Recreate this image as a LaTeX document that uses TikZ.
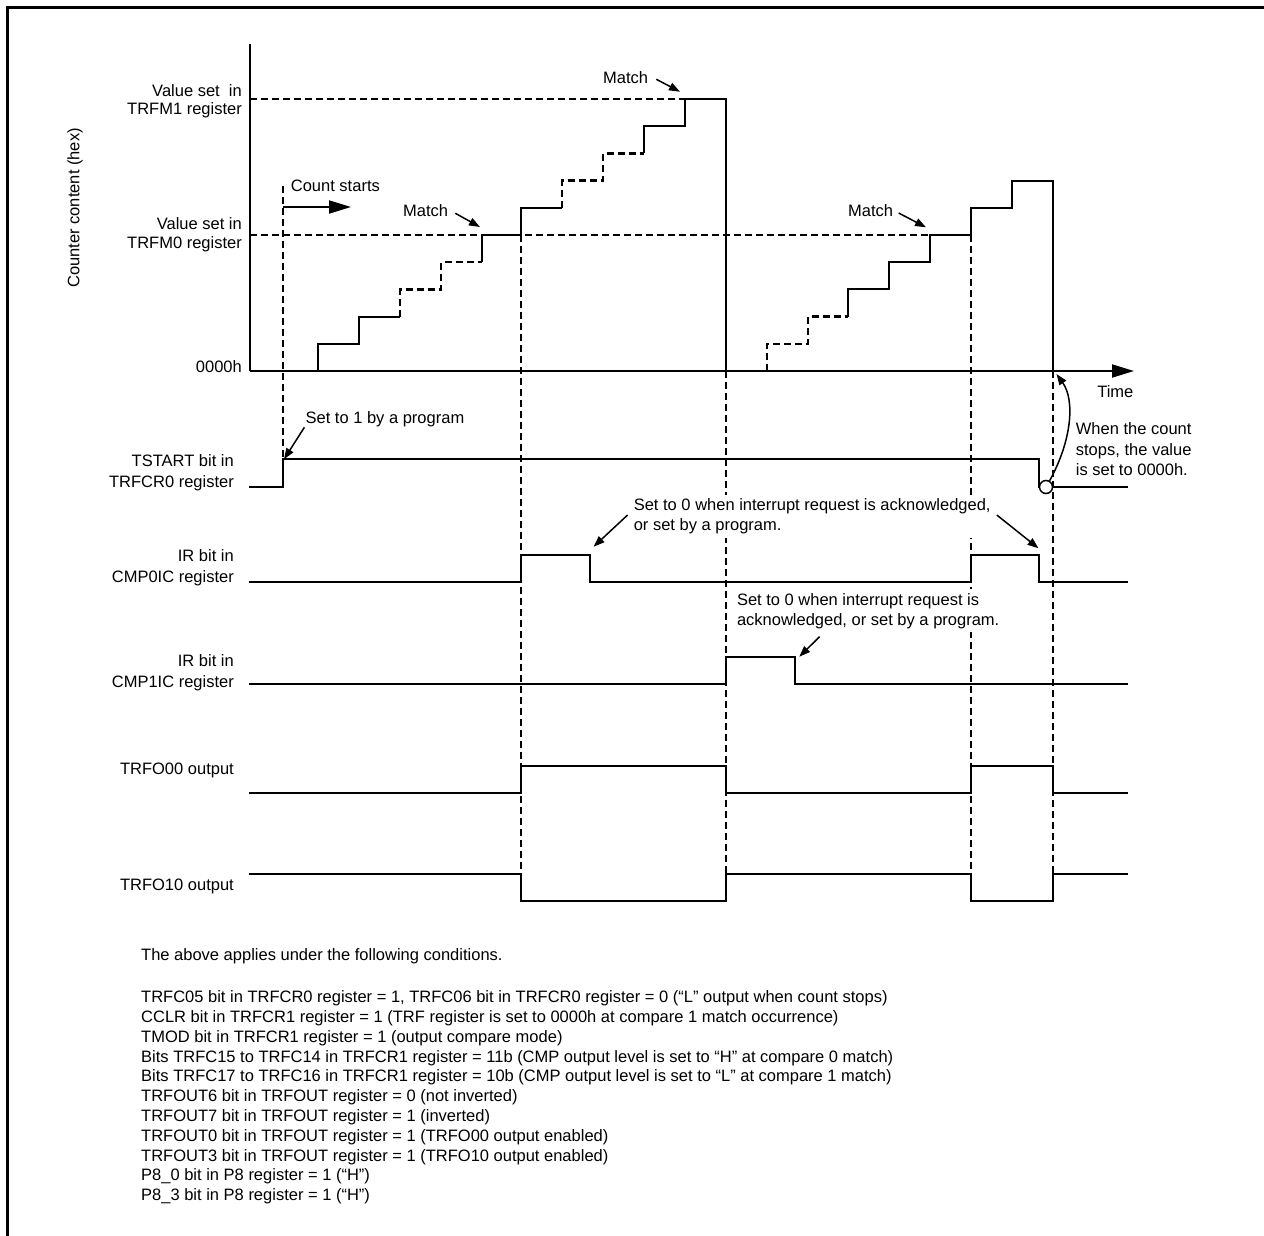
\documentclass[tikz,border=0pt]{standalone}
\usepackage{fontspec}
\setmainfont{Liberation Sans}
\usetikzlibrary{arrows.meta}
\begin{document}
\begin{tikzpicture}[x=1pt,y=-1pt,
  sig/.style={line width=1.9pt, line join=miter},
  dsh/.style={line width=2.4pt, dash pattern=on 7pt off 4pt},
  lbl/.style={inner sep=0pt, font=\fontsize{16.5}{20}\selectfont},
  lbltwo/.style={inner sep=0pt, font=\fontsize{16.5}{18.5}\selectfont},
  note/.style={fill=white, inner xsep=2pt, inner ysep=4pt, font=\fontsize{16.5}{20}\selectfont},
  cnd/.style={inner sep=0pt, anchor=base west, font=\fontsize{16.5}{20}\selectfont},
  arr/.style={line width=1.5pt, -{Triangle[length=11pt,width=8pt]}},
  bigarr/.style={line width=1.9pt, -{Triangle[length=22pt,width=13pt]}},
]
\fill[white] (0,0) rectangle (1264,1236);
\useasboundingbox (0,0) rectangle (1264,1236);

% frame
\draw[line width=3.2pt] (7.5,1236) -- (7.5,7.5) -- (1264,7.5);

% coordinates
\coordinate (O) at (250,371);
\coordinate (ytop) at (250,44);
\coordinate (xend) at (1134,371);
\coordinate (cs0) at (283,207);
\coordinate (cs1) at (351,207);
\coordinate (t1) at (480,227);
\coordinate (t2) at (680,91.7);
\coordinate (t3) at (926,227.3);
\coordinate (t4) at (284,459.3);
\coordinate (t5) at (593.6,546.7);
\coordinate (t6) at (1038.5,548.3);
\coordinate (t7) at (799.3,656.7);
\coordinate (ztip) at (1056.5,374);

% reference levels
\draw[dsh] (250,99) -- (685,99);
\draw[dsh] (250,235) -- (930,235);

% axes
\draw[sig] (ytop) -- (O);
\draw[bigarr] (O) -- (xend);

% first staircase
\draw[sig] (318,371) -- (318,343.8) -- (359,343.8) -- (359,316.6) -- (400,316.6);
\draw[dsh] (400,316.6) -- (400,289.4) -- (441,289.4) -- (441,262.2) -- (482,262.2);
\draw[sig] (482,262.2) -- (482,235) -- (521,235) -- (521,207.8) -- (562,207.8);
\draw[dsh] (562,207.8) -- (562,180.6) -- (603,180.6) -- (603,153.4) -- (644,153.4);
\draw[sig] (644,153.4) -- (644,126.2) -- (685,126.2) -- (685,99) -- (726,99) -- (726,371);

% second staircase
\draw[dsh] (767,371) -- (767,343.8) -- (808,343.8) -- (808,316.6) -- (848,316.6);
\draw[sig] (848,316.6) -- (848,289.4) -- (889,289.4) -- (889,262.2) -- (930,262.2) -- (930,235) -- (971,235) -- (971,207.8) -- (1012,207.8) -- (1012,180.6) -- (1053,180.6) -- (1053,371);

% waveforms
\draw[sig] (249,487) -- (283,487) -- (283,459) -- (1039,459) -- (1039,487) -- (1128,487);
\draw[sig] (249,582) -- (521,582) -- (521,555) -- (590,555) -- (590,582) -- (971,582) -- (971,555) -- (1039,555) -- (1039,582) -- (1128,582);
\draw[sig] (249,684) -- (726,684) -- (726,657) -- (795,657) -- (795,684) -- (1128,684);
\draw[sig] (249,793) -- (521,793) -- (521,766) -- (726,766) -- (726,793) -- (971,793) -- (971,766) -- (1053,766) -- (1053,793) -- (1128,793);
\draw[sig] (249,874) -- (521,874) -- (521,901) -- (726,901) -- (726,874) -- (971,874) -- (971,901) -- (1053,901) -- (1053,874) -- (1128,874);

\node[circle, draw, line width=1.5pt, fill=white, minimum size=13pt, inner sep=0pt] (circ) at (1046,487) {};

% vertical dashed guides
\draw[dsh] (283,186) -- (283,459);
\draw[dsh] (521,235) -- (521,874);
\draw[dsh] (726,371) -- (726,874);
\draw[dsh] (971,235) -- (971,874);
\draw[dsh] (1053,371) -- (1053,874);

% count start arrow
\draw[bigarr] (cs0) -- (cs1);

% labels
\node[lbltwo, align=right, anchor=east] (v1) at (242,101.4) {Value set\ \ in\\TRFM1 register};
\node[lbltwo, align=right, anchor=east] (v0) at (242,234.8) {Value set in\\TRFM0 register};
\node[lbl, anchor=east] (zero) at (242,366.5) {0000h};
\node[lbl, rotate=90] (ylab) at (75,208) {Counter content (hex)};
\node[lbl, anchor=west] (cnt) at (290.7,186) {Count starts};
\node[lbl, anchor=west] (m1) at (403,210.7) {Match};
\node[lbl, anchor=west] (m2) at (603,78) {Match};
\node[lbl, anchor=west] (m3) at (848,210.7) {Match};
\node[lbl] (time) at (1115.3,391.7) {Time};
\node[lbl, anchor=west] (set1) at (305.4,419.4) {Set to 1 by a program};
\node[lbl, anchor=west, align=left, font=\fontsize{16.5}{20.5}\selectfont] (stop) at (1075.7,449.4) {When the count\\stops, the value\\is set to 0000h.};
\node[note, anchor=west, align=left] (irq0) at (631.6,516.7) {Set to 0 when interrupt request is acknowledged,\\or set by a program.};
\node[note, anchor=west, align=left] (irq1) at (734.8,610.8) {Set to 0 when interrupt request is\\acknowledged, or set by a program.};

\node[lbl, anchor=east, align=right, font=\fontsize{16.5}{21}\selectfont] (lts) at (234,473.2) {TSTART bit in\\TRFCR0 register};
\node[lbl, anchor=east, align=right, font=\fontsize{16.5}{21}\selectfont] (lir0) at (234,568.2) {IR bit in\\CMP0IC register};
\node[lbl, anchor=east, align=right, font=\fontsize{16.5}{21}\selectfont] (lir1) at (234,672.7) {IR bit in\\CMP1IC register};
\node[lbl, anchor=east] (lo00) at (234,770.7) {TRFO00 output};
\node[lbl, anchor=east] (lo10) at (234,886.7) {TRFO10 output};

% annotation arrows
\draw[arr] ([shift={(7,2.6)}]m1.east) -- (t1);
\draw[arr] ([shift={(8,1.3)}]m2.east) -- (t2);
\draw[arr] ([shift={(5.3,2.3)}]m3.east) -- (t3);
\draw[arr] ([shift={(-1,0)}]set1.south west) -- (t4);
\draw[arr] ([shift={(-4,-1.7)}]irq0.west) -- (t5);
\draw[arr] ([shift={(4,-1.7)}]irq0.east) -- (t6);
\draw[arr] ([shift={(84.8,4)}]irq1.south west) -- (t7);
\draw[arr] (circ.60) .. controls (1072,440) and (1075,400) .. (ztip);

% conditions
\node[cnd] (cond0) at (141,960.9) {The above applies under the following conditions.};
\node[cnd] (cond1) at (141,1002.6) {TRFC05 bit in TRFCR0 register = 1, TRFC06 bit in TRFCR0 register = 0 (“L” output when count stops)};
\node[cnd] (cond2) at (141,1022.4) {CCLR bit in TRFCR1 register = 1 (TRF register is set to 0000h at compare 1 match occurrence)};
\node[cnd] (cond3) at (141,1042.2) {TMOD bit in TRFCR1 register = 1 (output compare mode)};
\node[cnd] (cond4) at (141,1062.0) {Bits TRFC15 to TRFC14 in TRFCR1 register = 11b (CMP output level is set to “H” at compare 0 match)};
\node[cnd] (cond5) at (141,1081.8) {Bits TRFC17 to TRFC16 in TRFCR1 register = 10b (CMP output level is set to “L” at compare 1 match)};
\node[cnd] (cond6) at (141,1101.6) {TRFOUT6 bit in TRFOUT register = 0 (not inverted)};
\node[cnd] (cond7) at (141,1121.4) {TRFOUT7 bit in TRFOUT register = 1 (inverted)};
\node[cnd] (cond8) at (141,1141.2) {TRFOUT0 bit in TRFOUT register = 1 (TRFO00 output enabled)};
\node[cnd] (cond9) at (141,1161.0) {TRFOUT3 bit in TRFOUT register = 1 (TRFO10 output enabled)};
\node[cnd] (cond10) at (141,1180.8) {P8\_0 bit in P8 register = 1 (“H”)};
\node[cnd] (cond11) at (141,1200.6) {P8\_3 bit in P8 register = 1 (“H”)};
\end{tikzpicture}
\end{document}
